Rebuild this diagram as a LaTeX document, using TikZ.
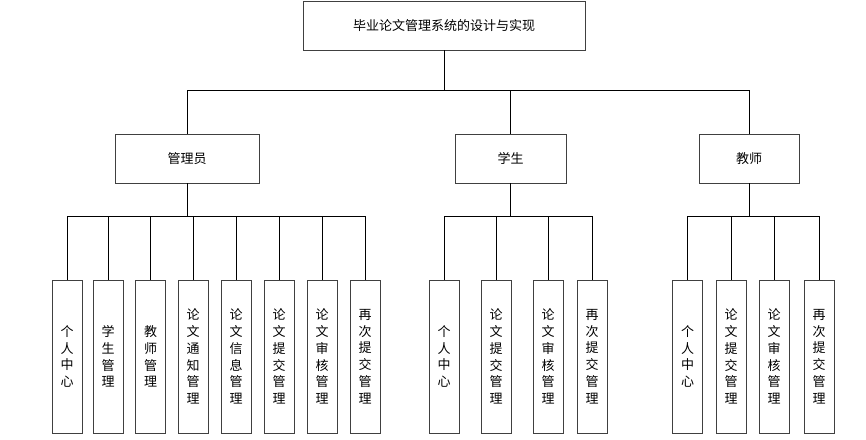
\documentclass[tikz,border=0pt]{standalone}
\usepackage{fontspec}
\newfontfamily\cjk{Noto Sans CJK SC}
\usetikzlibrary{calc}

\tikzset{
  box/.style={draw=black!75, line width=0.9pt, fill=white, inner sep=0pt,
    font=\cjk\fontsize{13}{16.7}\selectfont},
  topbox/.style={box, minimum width=282pt, minimum height=49pt},
  rolebox/.style={box, minimum height=49pt},
  leafbox/.style={box, minimum width=30pt, minimum height=153pt, align=center},
  link/.style={draw=black, line width=0.9pt}
}

\begin{document}
\begin{tikzpicture}[x=1pt, y=-1pt]
  \useasboundingbox (0,0) rectangle (866,439);

  % top
  \node[topbox] (sys) at (444, 25.5) {毕业论文管理系统的设计与实现};

  % roles
  \node[rolebox, minimum width=144pt] (admin) at (187, 158.5) {管理员};
  \node[rolebox, minimum width=111pt] (stu) at (510.5, 158.5) {学生};
  \node[rolebox, minimum width=100pt] (tea) at (749, 158.5) {教师};

  % admin leaves
  \node[leafbox] (a1) at (67, 356.5) {个\\人\\中\\心};
  \node[leafbox] (a2) at (108, 356.5) {学\\生\\管\\理};
  \node[leafbox] (a3) at (150.5, 356.5) {教\\师\\管\\理};
  \node[leafbox] (a4) at (193, 356.5) {论\\文\\通\\知\\管\\理};
  \node[leafbox] (a5) at (236, 356.5) {论\\文\\信\\息\\管\\理};
  \node[leafbox] (a6) at (279, 356.5) {论\\文\\提\\交\\管\\理};
  \node[leafbox] (a7) at (322, 356.5) {论\\文\\审\\核\\管\\理};
  \node[leafbox] (a8) at (365, 356.5) {再\\次\\提\\交\\管\\理};

  % student leaves
  \node[leafbox] (s1) at (444, 356.5) {个\\人\\中\\心};
  \node[leafbox] (s2) at (496, 356.5) {论\\文\\提\\交\\管\\理};
  \node[leafbox] (s3) at (548, 356.5) {论\\文\\审\\核\\管\\理};
  \node[leafbox] (s4) at (592, 356.5) {再\\次\\提\\交\\管\\理};

  % teacher leaves
  \node[leafbox] (t1) at (687.5, 356.5) {个\\人\\中\\心};
  \node[leafbox] (t2) at (731, 356.5) {论\\文\\提\\交\\管\\理};
  \node[leafbox] (t3) at (774, 356.5) {论\\文\\审\\核\\管\\理};
  \node[leafbox] (t4) at (819, 356.5) {再\\次\\提\\交\\管\\理};

  % links
  \draw[link] (sys.south) -- ++(0,40) -| (admin.north);
  \draw[link] (sys.south) -- ++(0,40) -| (stu.north);
  \draw[link] (sys.south) -- ++(0,40) -| (tea.north);

  \draw[link] (admin.south) -- ++(0,33) -| (a1.north);
  \draw[link] (admin.south) -- ++(0,33) -| (a2.north);
  \draw[link] (admin.south) -- ++(0,33) -| (a3.north);
  \draw[link] (admin.south) -- ++(0,33) -| (a4.north);
  \draw[link] (admin.south) -- ++(0,33) -| (a5.north);
  \draw[link] (admin.south) -- ++(0,33) -| (a6.north);
  \draw[link] (admin.south) -- ++(0,33) -| (a7.north);
  \draw[link] (admin.south) -- ++(0,33) -| (a8.north);

  \draw[link] (stu.south) -- ++(0,33) -| (s1.north);
  \draw[link] (stu.south) -- ++(0,33) -| (s2.north);
  \draw[link] (stu.south) -- ++(0,33) -| (s3.north);
  \draw[link] (stu.south) -- ++(0,33) -| (s4.north);

  \draw[link] (tea.south) -- ++(0,33) -| (t1.north);
  \draw[link] (tea.south) -- ++(0,33) -| (t2.north);
  \draw[link] (tea.south) -- ++(0,33) -| (t3.north);
  \draw[link] (tea.south) -- ++(0,33) -| (t4.north);
\end{tikzpicture}
\end{document}
